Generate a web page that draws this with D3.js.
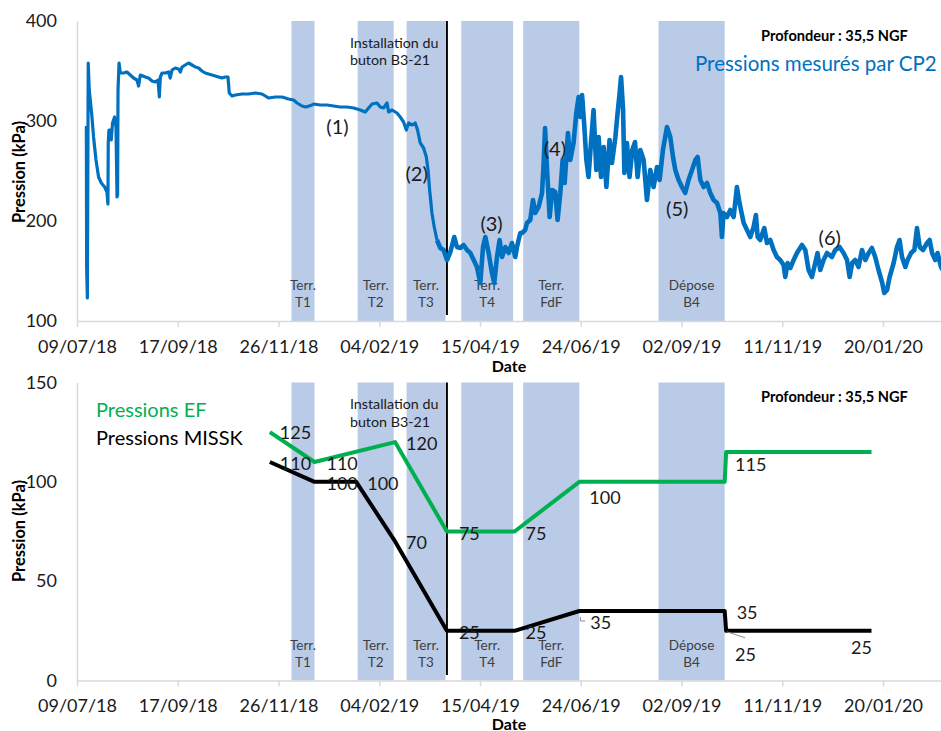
<!DOCTYPE html>
<html><head><meta charset="utf-8">
<script src="https://cdn.jsdelivr.net/npm/d3@7"></script>
<style>html,body{margin:0;padding:0;background:#fff;} svg{display:block;font-family:Lato,"Open Sans",sans-serif;}</style>
</head><body><svg id="c" width="941" height="731"></svg>
<script>
// ---------- DATA ----------
const startDate = "2018-07-09";
const axisEndDate = "2020-03-01";
const tickLabels = ["09/07/18","17/09/18","26/11/18","04/02/19","15/04/19","24/06/19","02/09/19","11/11/19","20/01/20"];
const topYTicks = [100,200,300,400];
const bottomYTicks = [0,50,100,150];

// CP2 measured pressure: [days since 09/07/18, kPa]
const cp2Readings = [
[6.5,295],[6.7,153],[7.2,123],[7.8,358],[8.5,331],[10.4,304],[11.5,284],[13.2,261],[15.0,244],[16.9,238],[19.2,234],[20.8,229],[21.5,217],[21.7,278],[22.2,291],[23.1,291],[23.8,281],[24.7,298],[26.1,304],[27.1,294],[27.8,224],[28.2,226],[28.5,331],[29.2,358],[30.1,348],[32.4,348],[34.7,349],[37.0,346],[39.3,343],[41.7,341],[42.8,335],[44.0,346],[47.5,344],[49.7,343],[52.1,340],[54.4,339],[56.3,341],[57.2,324],[57.9,344],[59.1,348],[61.4,348],[63.6,349],[64.8,343],[66.0,351],[68.3,353],[70.6,352],[71.8,349],[73.0,354],[75.2,356],[77.5,358],[79.9,356],[82.2,354],[84.5,353],[86.8,350],[89.1,348],[91.4,347],[93.8,346],[96.1,345],[98.4,344],[100.7,343],[103.0,344],[104.9,344],[105.8,328],[107.7,325],[110.0,326],[114.6,327],[119.2,327],[123.9,328],[128.5,327],[132.0,324],[133.1,323],[137.8,324],[142.4,324],[147.0,322],[150.5,321],[152.9,318],[156.3,315],[159.1,314],[163.3,316],
[164.4,317],[169.0,316],[173.7,316],[178.3,315],[182.9,314],[187.6,314],[192.2,313],[196.8,311],[200.3,309],[202.6,313],[205.0,317],[208.4,318],[210.7,314],[213.0,313],[215.4,318],[216.5,309],[218.9,311],[222.3,308],[224.6,304],[226.9,299],[228.8,291],[230.4,298],[232.8,296],[235.0,298],[236.6,291],[238.5,278],[240.8,273],[242.7,264],[243.9,251],[245.0,231],[246.6,208],[248.2,194],[250.1,181],[252.4,173],[254.7,171],[257.1,161],[259.4,169],[262.1,184],[264.0,174],[266.3,173],[268.6,176],[271.0,171],[273.3,168],[275.6,161],[277.9,154],[280.2,138],[282.1,174],[283.7,184],[286.0,168],[288.3,148],[289.9,138],[291.8,164],[293.6,181],[295.3,164],[297.6,174],[299.9,168],[302.2,178],[304.5,164],[305.7,174],[306.8,181],[308.0,188],[309.2,188],[311.4,191],[312.6,198],[314.9,201],[316.8,221],[318.4,208],[320.7,214],[323.1,228],[324.2,258],[325.2,293],[326.6,251],[328.4,204],[330.1,231],[332.3,229],[333.9,201],[335.8,228],[337.4,261],[338.8,238],[341.1,288],[342.7,261],[345.0,278],[346.9,308],[348.5,324],[349.7,304],[350.9,326],[352.5,294],[353.9,261],[355.4,244],[357.1,278],[358.9,311],[360.8,251],[362.4,284],[364.1,244],[365.9,274],[367.8,234],[370.0,281],[371.7,258],[374.0,283],[375.6,308],[377.0,328],[378.0,344],[379.4,311],[380.3,248],[382.1,278],[383.9,244],[385.8,271],[387.7,279],[389.5,244],[391.4,271],[393.7,261],[396.0,221],[398.3,251],[400.6,234],[403.0,254],[404.8,241],[407.1,271],[409.9,294],[412.2,284],[414.1,264],[415.7,251],[418.0,241],[420.3,234],[422.6,228],[424.9,241],[427.3,251],[429.6,261],[431.2,264],[433.1,241],[435.4,234],[437.7,238],[440.0,228],[442.3,221],[444.7,218],[447.0,208],[448.1,184],[449.2,208],[451.6,204],[453.9,211],[456.2,204],[458.5,234],[460.3,218],[463.2,198],[465.5,191],[467.8,184],[470.1,194],[471.7,206],[472.9,184],[474.7,181],[477.5,193],[479.4,178],[481.7,181],[484.0,171],[486.3,164],[488.6,161],[490.9,156],[492.1,144],[493.7,158],[495.6,153],[497.9,161],[500.2,168],[503.7,176],[506.0,171],[508.3,151],[510.6,144],[512.9,158],[514.5,168],[516.4,151],[518.7,161],[521.1,168],[524.5,164],[526.8,171],[529.8,174],[532.6,168],[535.0,161],[536.8,144],[538.6,158],[540.7,161],[543.0,154],[545.4,171],[547.7,161],[550.0,168],[552.3,173],[554.6,164],[556.9,151],[559.3,139],[560.9,128],[562.8,131],[564.6,144],[567.4,158],[569.7,174],[571.5,181],[573.2,164],[575.5,154],[577.1,161],[579.5,168],[581.8,171],[583.6,193],[585.5,174],[587.8,171],[590.6,178],[592.4,181],[594.1,168],[596.3,161],[597.9,168],[600.3,154],[602.0,150]
];
const cp2NoisyFromDay = 250;

const bandNames = [["Terr.","T1"],["Terr.","T2"],["Terr.","T3"],["Terr.","T4"],["Terr.","FdF"],["Dépose","B4"]];
const bandStart = ["2018-12-05","2019-01-20","2019-02-23","2019-04-02","2019-05-15","2019-08-17"];
const bandEnd   = ["2018-12-21","2019-02-14","2019-03-22","2019-05-08","2019-06-23","2019-10-02"];
const installDate = "2019-03-23";
const installText = ["Installation du","buton B3-21"];

const phaseLabels = ["(1)","(2)","(3)","(4)","(5)","(6)"];
const phaseDates  = ["2019-01-06","2019-03-02","2019-04-23","2019-06-06","2019-08-30","2019-12-14"];
const phaseValues = [295,248,198,273,213,184];

const efDates  = ["2018-11-20","2018-12-21","2019-02-15","2019-03-23","2019-05-09","2019-06-23","2019-10-02","2019-10-03","2020-01-12"];
const efValues = [125,110,120,75,75,100,100,115,115];
const efShown  = [true,true,true,true,true,true,false,true,false];

const misskDates  = ["2018-11-20","2018-12-21","2019-01-19","2019-02-15","2019-03-23","2019-05-09","2019-06-23","2019-10-02","2019-10-03","2020-01-12"];
const misskValues = [110,100,100,70,25,25,35,35,25,25];

// ---------- LAYOUT ----------
const efLabelOffsets    = [[10,0],[12,1],[11,1],[12,1],[11,1],[10,15],null,[9,12],null];
const misskLabelOffsets = [[10,1],[12,1],[11,1],[11,1],[12,1],[11,1],[11,11],[12,1],[9,23],[0.5,16.5,"end"]];
const misskLeaders = {6:[[1,6],[1,10],[6,10]], 8:[[1,1],[19,7]]};

const parse = d3.utcParse("%Y-%m-%d");
const parseTick = d3.utcParse("%d/%m/%y");
const t0 = parse(startDate);
const dayToDate = d => new Date(t0.getTime() + d*864e5);

const svg = d3.select("#c");
const x = d3.scaleUtc().domain([t0, parse(axisEndDate)]).range([77, 77 + 601*1.4393]);

const panels = [
  {y: d3.scaleLinear().domain([100,400]).range([321,21]), ticks: topYTicks, top: 21, bottom: 321, lineBottom: 315, dateY: 365, titleY: 172},
  {y: d3.scaleLinear().domain([0,150]).range([680.5,382.5]), ticks: bottomYTicks, top: 382.5, bottom: 680.5, lineBottom: 675, dateY: 723, titleY: 531}
];

panels.forEach((p, pi) => {
  const g = svg.append("g");
  g.selectAll("rect.band").data(bandStart).enter().append("rect")
    .attr("x", (d,i) => x(parse(d)))
    .attr("width", (d,i) => x(parse(bandEnd[i])) - x(parse(d)))
    .attr("y", p.top).attr("height", p.bottom - p.top)
    .attr("fill", "#b9cbe7");
  bandNames.forEach((lines, i) => {
    const cx = (x(parse(bandStart[i])) + x(parse(bandEnd[i]))) / 2;
    lines.forEach((t, k) => {
      g.append("text").attr("x", cx).attr("y", p.bottom - 36 + k*17)
        .attr("text-anchor","middle").attr("dominant-baseline","central")
        .attr("font-size", 13.5).attr("fill","#404040").text(t);
    });
  });
  const xa = g.append("g").attr("transform", `translate(0,${p.bottom})`)
    .call(d3.axisBottom(x).tickValues(tickLabels.map(parseTick)).tickFormat((d,i)=>tickLabels[i]).tickSize(6).tickSizeOuter(0));
  xa.select(".domain").attr("stroke","#d9d9d9").attr("stroke-width",1.5);
  xa.selectAll(".tick line").attr("stroke","#d9d9d9").attr("stroke-width",1.5);
  xa.selectAll(".tick text").attr("y", 25.5).attr("dy","0.35em").attr("font-size",18).attr("fill","#1a1a1a").attr("font-family","Lato");
  const ya = g.append("g").attr("transform","translate(77,0)")
    .call(d3.axisLeft(p.y).tickValues(p.ticks).tickSize(0).tickSizeOuter(0).tickPadding(20));
  ya.select(".domain").attr("stroke","#d9d9d9").attr("stroke-width",1.5);
  ya.selectAll(".tick text").attr("font-size",18).attr("fill","#1a1a1a").attr("font-family","Lato");
  const ix = x(parse(installDate));
  g.append("line").attr("x1",ix).attr("x2",ix).attr("y1",p.top).attr("y2",p.lineBottom)
    .attr("stroke","#000").attr("stroke-width",2);
  installText.forEach((t,k) => {
    g.append("text").attr("x", ix - 97).attr("y", p.top + 21 + k*17.5).attr("dominant-baseline","central")
      .attr("font-size",14.3).attr("fill","#1a1a1a").text(t);
  });
  g.append("text").attr("transform",`translate(19,${p.titleY}) rotate(-90)`).attr("text-anchor","middle")
    .attr("dominant-baseline","central").attr("font-size",16.5).attr("font-weight","bold").text("Pression (kPa)");
  g.append("text").attr("x",509).attr("y",p.dateY).attr("text-anchor","middle").attr("dominant-baseline","central")
    .attr("font-size",16).attr("font-weight","bold").text("Date");
  g.append("text").attr("x",761).attr("y",p.top + 14).attr("dominant-baseline","central")
    .attr("font-size",14.6).attr("font-weight","bold").attr("fill","#000").text("Profondeur : 35,5 NGF");
});

// ---- top panel series ----
const yT = panels[0].y;
const lineT = d3.line().x(d => x(dayToDate(d[0]))).y(d => yT(d[1]));
const calmPart  = cp2Readings.filter(d => d[0] <= cp2NoisyFromDay + 0.5);
const noisyPart = cp2Readings.filter(d => d[0] >= cp2NoisyFromDay);
svg.append("path").datum(calmPart)
  .attr("fill","none").attr("stroke","#0070c0").attr("stroke-width",3.2).attr("stroke-linejoin","round")
  .attr("d", lineT);
svg.append("path").datum(noisyPart)
  .attr("fill","none").attr("stroke","#0070c0").attr("stroke-width",4.6).attr("stroke-linejoin","round")
  .attr("d", lineT);
svg.append("text").attr("x",695).attr("y",63).attr("dominant-baseline","central")
  .attr("font-size",20.5).attr("fill","#0070c0").text("Pressions mesurés par CP2");
phaseLabels.forEach((t,i) => {
  svg.append("text").attr("x", x(parse(phaseDates[i]))).attr("y", yT(phaseValues[i]))
    .attr("text-anchor","middle").attr("dominant-baseline","central")
    .attr("font-size",20).attr("fill","#1a1a1a").text(t);
});

// ---- bottom panel series ----
const yB = panels[1].y;
const lineB = d3.line().x(d => x(parse(d[0]))).y(d => yB(d[1]));
const efPts = efDates.map((d,i) => [d, efValues[i]]);
const miPts = misskDates.map((d,i) => [d, misskValues[i]]);
svg.append("path").datum(efPts).attr("fill","none").attr("stroke","#00b050").attr("stroke-width",4).attr("stroke-linejoin","round").attr("d", lineB);
svg.append("path").datum(miPts).attr("fill","none").attr("stroke","#000").attr("stroke-width",4).attr("stroke-linejoin","round").attr("d", lineB);

Object.entries(misskLeaders).forEach(([i, pts]) => {
  const px = x(parse(misskDates[i])), py = yB(misskValues[i]);
  svg.append("path").attr("fill","none").attr("stroke","#8c8c8c").attr("stroke-width",1)
    .attr("d", d3.line()(pts.map(q => [px + q[0], py + q[1]])));
});
efPts.forEach((d,i) => {
  const o = efLabelOffsets[i]; if (!o || !efShown[i]) return;
  svg.append("text").attr("x", x(parse(d[0])) + o[0]).attr("y", yB(d[1]) + o[1])
    .attr("dominant-baseline","central").attr("font-size",18).attr("fill","#1a1a1a").text(d[1]);
});
miPts.forEach((d,i) => {
  const o = misskLabelOffsets[i]; if (!o) return;
  svg.append("text").attr("x", x(parse(d[0])) + o[0]).attr("y", yB(d[1]) + o[1])
    .attr("text-anchor", o[2] || "start")
    .attr("dominant-baseline","central").attr("font-size",18).attr("fill","#1a1a1a").text(d[1]);
});
svg.append("text").attr("x",96).attr("y",409).attr("dominant-baseline","central").attr("font-size",20).attr("fill","#00b050").text("Pressions EF");
svg.append("text").attr("x",96).attr("y",437).attr("dominant-baseline","central").attr("font-size",20).attr("fill","#000").text("Pressions MISSK");
</script></body></html>
